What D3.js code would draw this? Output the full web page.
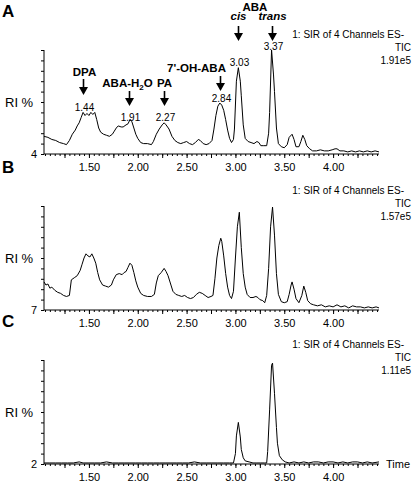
<!DOCTYPE html>
<html><head><meta charset="utf-8">
<script src="https://cdn.jsdelivr.net/npm/d3@7"></script>
<style>body{margin:0;background:#fff} svg{display:block} text{font-family:"Liberation Sans",Arial,sans-serif}</style>
</head><body><svg id="c" width="415" height="486"></svg><script>
// ---- data ----
const panelLetters = ["A","B","C"];
const offsetLabels = ["4","7","2"];
const scaleLabels = ["1.91e5","1.57e5","1.11e5"];
const headerLine1 = "1: SIR of 4 Channels ES-";
const headerLine2 = "TIC";
const xTickLabels = [1.50, 2.00, 2.50, 3.00, 3.50, 4.00];
const timeDomain = [1.04, 4.47];

const traceA = [[1.04,17],[1.08,16],[1.12,14],[1.16,13],[1.20,11],[1.24,10],[1.27,9],[1.30,13],[1.33,19],[1.36,23],[1.38,27],[1.40,30],[1.42,35],[1.44,40],[1.46,37],[1.48,39],[1.50,37],[1.52,40],[1.54,38],[1.56,40],[1.58,33],[1.60,25],[1.62,21],[1.65,19],[1.68,18],[1.71,17],[1.74,19],[1.76,22],[1.78,25],[1.80,27],[1.83,26],[1.85,26],[1.88,28],[1.90,29],[1.92,33],[1.94,31],[1.96,25],[1.98,19],[2.00,15],[2.03,11],[2.06,10],[2.10,10],[2.14,9],[2.16,12],[2.19,19],[2.22,24],[2.25,28],[2.27,30],[2.29,28],[2.32,24],[2.35,17],[2.38,13],[2.41,11],[2.44,10],[2.47,11],[2.50,12],[2.53,10],[2.56,9],[2.59,11],[2.62,14],[2.64,13],[2.67,10],[2.70,9],[2.73,10],[2.76,13],[2.78,24],[2.80,37],[2.82,46],[2.84,49],[2.86,47],[2.88,42],[2.90,33],[2.92,23],[2.94,15],[2.96,11],[2.98,14],[2.99,24],[3.01,70],[3.03,83],[3.05,70],[3.06,56],[3.08,28],[3.10,15],[3.13,12],[3.16,11],[3.19,10],[3.22,12],[3.24,11],[3.26,8],[3.29,8],[3.32,8],[3.34,20],[3.35,40],[3.37,100],[3.39,76],[3.40,60],[3.42,25],[3.44,10],[3.47,7],[3.50,6],[3.53,9],[3.55,16],[3.58,19],[3.60,14],[3.62,7],[3.65,7],[3.67,12],[3.69,18],[3.71,14],[3.73,8],[3.76,5],[3.79,3],[3.83,3],[3.87,4],[3.91,3],[3.95,3],[3.99,4],[4.02,5],[4.04,5],[4.07,3],[4.11,3],[4.15,2],[4.19,3],[4.23,2],[4.27,3],[4.31,2],[4.35,3],[4.39,2],[4.43,3],[4.47,2]];

const traceB = [[1.04,27],[1.06,24],[1.08,25],[1.10,21],[1.12,22],[1.15,19],[1.18,17],[1.21,16],[1.24,14],[1.27,13],[1.30,14],[1.32,29],[1.35,31],[1.38,33],[1.41,38],[1.43,44],[1.45,50],[1.47,54],[1.49,52],[1.51,51],[1.53,54],[1.55,50],[1.57,45],[1.59,36],[1.61,29],[1.64,24],[1.67,23],[1.70,22],[1.73,24],[1.75,29],[1.78,34],[1.81,35],[1.84,34],[1.86,36],[1.88,37],[1.90,41],[1.92,45],[1.94,43],[1.96,36],[1.98,28],[2.00,22],[2.03,16],[2.06,14],[2.10,13],[2.14,13],[2.17,15],[2.19,26],[2.21,33],[2.24,36],[2.27,40],[2.29,37],[2.31,33],[2.34,24],[2.36,18],[2.39,15],[2.42,14],[2.45,13],[2.48,14],[2.51,12],[2.54,11],[2.57,12],[2.60,15],[2.63,17],[2.66,16],[2.69,14],[2.72,12],[2.75,13],[2.77,14],[2.79,30],[2.81,50],[2.83,62],[2.85,69],[2.86,66],[2.88,52],[2.90,35],[2.92,22],[2.94,14],[2.96,11],[2.98,18],[3.00,50],[3.02,80],[3.04,94],[3.06,60],[3.08,35],[3.10,22],[3.12,15],[3.15,12],[3.18,12],[3.21,13],[3.23,12],[3.25,10],[3.28,9],[3.30,7],[3.32,14],[3.34,40],[3.36,80],[3.38,99],[3.40,72],[3.42,35],[3.44,15],[3.47,8],[3.50,7],[3.53,8],[3.55,15],[3.57,24],[3.58,27],[3.60,20],[3.62,11],[3.65,7],[3.68,14],[3.70,23],[3.72,17],[3.74,9],[3.77,6],[3.80,5],[3.84,4],[3.88,5],[3.92,3],[3.96,4],[4.00,3],[4.04,5],[4.08,3],[4.12,4],[4.16,2],[4.20,4],[4.24,3],[4.28,3],[4.32,2],[4.36,3],[4.40,2],[4.44,3],[4.47,2]];

const traceC = [[1.04,1],[1.10,1],[1.16,1],[1.22,1],[1.28,1],[1.34,1],[1.40,2],[1.44,1],[1.50,1],[1.56,1],[1.62,1],[1.68,2],[1.74,1],[1.80,1],[1.86,1],[1.92,1],[1.98,1],[2.04,1],[2.10,1],[2.16,1],[2.22,1],[2.28,1],[2.34,1],[2.40,1],[2.46,1],[2.52,1],[2.58,2],[2.64,1],[2.70,1],[2.76,1],[2.82,1],[2.88,1],[2.94,1],[2.98,1],[3.00,10],[3.01,27],[3.03,40],[3.05,26],[3.06,14],[3.08,6],[3.10,3],[3.14,2],[3.18,1],[3.22,1],[3.26,1],[3.30,1],[3.32,1],[3.33,12],[3.35,52],[3.37,95],[3.38,97],[3.40,68],[3.42,35],[3.43,20],[3.45,8],[3.48,4],[3.51,2],[3.55,1],[3.60,2],[3.65,1],[3.70,2],[3.75,1],[3.80,2],[3.85,2],[3.90,1],[3.95,2],[4.00,2],[4.05,1],[4.10,2],[4.15,1],[4.20,2],[4.25,2],[4.30,1],[4.35,2],[4.40,1],[4.47,2]];

const traces = [traceA, traceB, traceC];

// peak annotations for panel A: [name, time, retention label]
const peakNames = ["DPA","ABA-H2O","PA","7'-OH-ABA","cis","trans"];
const peakTimes = [1.44, 1.91, 2.27, 2.84, 3.03, 3.37];
const peakLabels = ["1.44","1.91","2.27","2.84","3.03","3.37"];

// ---- layout ----
const svg = d3.select("#c");
const panelTops = [50, 206, 360];
const panelH = 104;
const left = 44, right = 379;
const x = d3.scaleLinear().domain(timeDomain).range([left, right]);
const line = d3.line().x(d => x(d[0]));

traces.forEach((tr, i) => {
  const top = panelTops[i], bot = top + panelH;
  const y = d3.scaleLinear().domain([0, 100]).range([bot, top]);
  const g = svg.append("g");

  // y axis
  const ya = g.append("g").attr("transform", `translate(${left},0)`)
    .call(d3.axisLeft(y).tickValues(d3.range(0, 101, 10)).tickSize(3).tickFormat(""));
  ya.select(".domain").attr("d", `M0,${top}V${bot}`).attr("stroke", "#000");
  ya.selectAll(".tick line").attr("stroke", "#000");

  // x axis minor ticks
  const minor = d3.range(1.05, 4.46, 0.05).map(v => +v.toFixed(2));
  const xa = g.append("g").attr("transform", `translate(0,${bot})`)
    .call(d3.axisBottom(x).tickValues(minor).tickSize(2).tickFormat(""));
  xa.select(".domain").attr("d", `M${left},0H${right}`).attr("stroke", "#000");
  xa.selectAll(".tick line").attr("stroke", "#000");
  const majors = d3.range(1.25, 4.46, 0.25).map(v => +v.toFixed(2));
  const xb = g.append("g").attr("transform", `translate(0,${bot})`)
    .call(d3.axisBottom(x).tickValues(majors).tickSize(4).tickFormat(""));
  xb.select(".domain").remove();
  xb.selectAll(".tick line").attr("stroke", "#000");
  const xl = g.append("g").attr("transform", `translate(0,${bot})`)
    .call(d3.axisBottom(x).tickValues(xTickLabels).tickSize(0).tickPadding(9).tickFormat(d3.format(".2f")));
  xl.select(".domain").remove();
  xl.selectAll("text").attr("font-size", 11).attr("fill", "#000")
    .attr("font-family", '"Liberation Sans",Arial,sans-serif');

  // trace
  g.append("path").datum(tr)
    .attr("d", line.y(d => y(d[1])))
    .attr("fill", "none").attr("stroke", "#000").attr("stroke-width", 1);

  // labels
  g.append("text").attr("x", 2).attr("y", top - 33).attr("font-size", 17)
    .attr("font-weight", "bold").text(panelLetters[i]);
  g.append("text").attr("x", 5).attr("y", (top + bot) / 2 + 5).attr("font-size", 13).text("RI %");
  g.append("text").attr("x", 37).attr("y", bot + 4).attr("text-anchor", "end")
    .attr("font-size", 11).text(offsetLabels[i]);
  g.append("text").attr("x", 404).attr("y", top - 12).attr("text-anchor", "end")
    .attr("font-size", 10).text(headerLine1);
  g.append("text").attr("x", 411).attr("y", top + 1).attr("text-anchor", "end")
    .attr("font-size", 10).text(headerLine2);
  g.append("text").attr("x", 411).attr("y", top + 14).attr("text-anchor", "end")
    .attr("font-size", 10).text(scaleLabels[i]);
  if (i === 2) {
    g.append("text").attr("x", 386).attr("y", bot + 4).attr("font-size", 11).text("Time");
  }
});

// ---- panel A annotations ----
const gA = svg.append("g");
function arrow(cx, y0, y1) {
  const headH = 8, w = 4.5;
  gA.append("line").attr("x1", cx).attr("x2", cx).attr("y1", y0).attr("y2", y1 - headH)
    .attr("stroke", "#000").attr("stroke-width", 1.6);
  gA.append("path").attr("d", `M${cx - w},${y1 - headH}L${cx + w},${y1 - headH}L${cx},${y1}Z`).attr("fill", "#000");
}
// name positions (text) and arrows relative to peak time
const nameOffsets = [[1, 76], [-2, 87], [0, 87], [-24, 72], [0, 20], [0, 20]];
const arrowSpans = [[79, 95], [91, 106], [91, 106], [76, 91], [26, 41], [26, 41]];
const rtBaselines = [111, 121, 121, 102, 66, 50];
peakTimes.forEach((t, k) => {
  const cx = Math.round(x(t)) + 0.5;
  const name = peakNames[k];
  const tx = gA.append("text").attr("x", cx + nameOffsets[k][0]).attr("y", nameOffsets[k][1])
    .attr("text-anchor", "middle").attr("font-size", 11.5).attr("font-weight", "bold");
  if (name === "ABA-H2O") {
    tx.append("tspan").text("ABA-H");
    tx.append("tspan").attr("font-size", 8).attr("dy", 3).text("2");
    tx.append("tspan").attr("dy", -3).text("O");
  } else {
    tx.text(name);
    if (name === "cis" || name === "trans") tx.attr("font-style", "italic");
  }
  arrow(cx, arrowSpans[k][0], arrowSpans[k][1]);
  gA.append("text").attr("x", cx + 1).attr("y", rtBaselines[k]).attr("text-anchor", "middle")
    .attr("font-size", 10).text(peakLabels[k]);
});
gA.append("text").attr("x", (x(3.03) + x(3.37)) / 2).attr("y", 11).attr("text-anchor", "middle")
  .attr("font-size", 11.5).attr("font-weight", "bold").text("ABA");
</script></body></html>
